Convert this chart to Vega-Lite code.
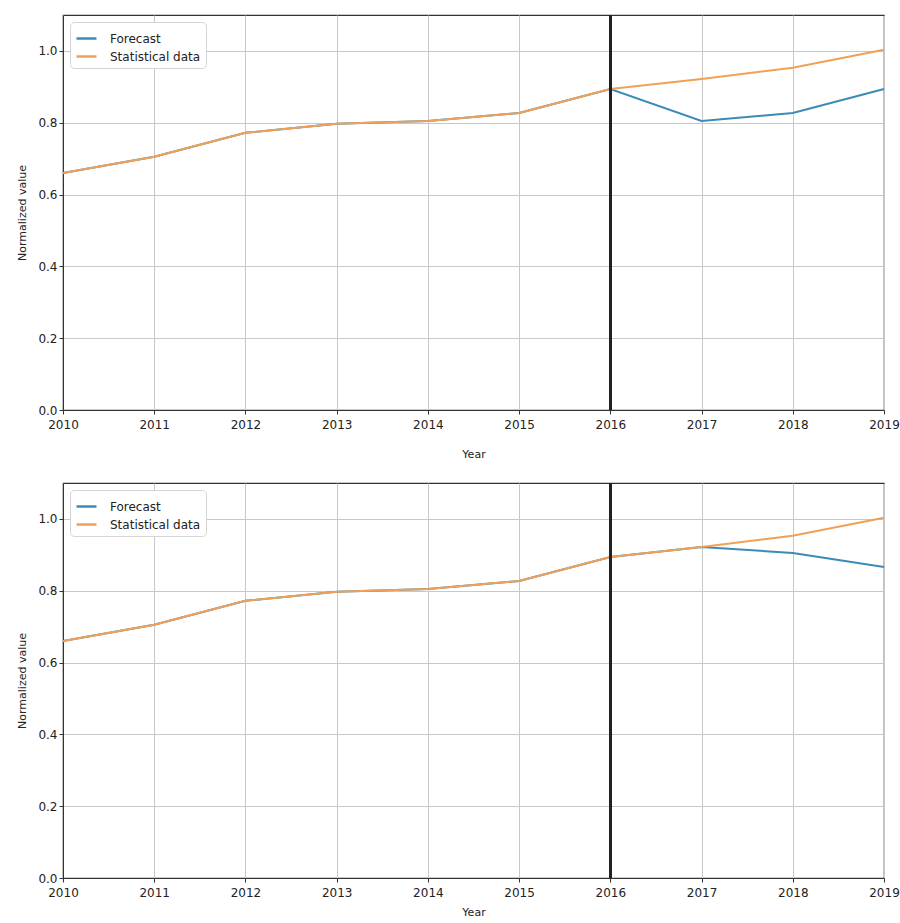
{
  "$schema": "https://vega.github.io/schema/vega-lite/v6.json",
  "padding": {"left": 16, "top": 13, "right": 10, "bottom": 0},
  "spacing": 21,
  "background": "white",
  "datasets": {
    "top": [
      {"year": 2010, "value": 0.660, "series": "Forecast"},
      {"year": 2011, "value": 0.705, "series": "Forecast"},
      {"year": 2012, "value": 0.772, "series": "Forecast"},
      {"year": 2013, "value": 0.797, "series": "Forecast"},
      {"year": 2014, "value": 0.805, "series": "Forecast"},
      {"year": 2015, "value": 0.827, "series": "Forecast"},
      {"year": 2016, "value": 0.894, "series": "Forecast"},
      {"year": 2017, "value": 0.805, "series": "Forecast"},
      {"year": 2018, "value": 0.827, "series": "Forecast"},
      {"year": 2019, "value": 0.894, "series": "Forecast"},
      {"year": 2010, "value": 0.660, "series": "Statistical data"},
      {"year": 2011, "value": 0.705, "series": "Statistical data"},
      {"year": 2012, "value": 0.772, "series": "Statistical data"},
      {"year": 2013, "value": 0.797, "series": "Statistical data"},
      {"year": 2014, "value": 0.805, "series": "Statistical data"},
      {"year": 2015, "value": 0.827, "series": "Statistical data"},
      {"year": 2016, "value": 0.894, "series": "Statistical data"},
      {"year": 2017, "value": 0.922, "series": "Statistical data"},
      {"year": 2018, "value": 0.953, "series": "Statistical data"},
      {"year": 2019, "value": 1.003, "series": "Statistical data"}
    ],
    "bottom": [
      {"year": 2010, "value": 0.660, "series": "Forecast"},
      {"year": 2011, "value": 0.705, "series": "Forecast"},
      {"year": 2012, "value": 0.772, "series": "Forecast"},
      {"year": 2013, "value": 0.797, "series": "Forecast"},
      {"year": 2014, "value": 0.805, "series": "Forecast"},
      {"year": 2015, "value": 0.827, "series": "Forecast"},
      {"year": 2016, "value": 0.894, "series": "Forecast"},
      {"year": 2017, "value": 0.922, "series": "Forecast"},
      {"year": 2018, "value": 0.905, "series": "Forecast"},
      {"year": 2019, "value": 0.866, "series": "Forecast"},
      {"year": 2010, "value": 0.660, "series": "Statistical data"},
      {"year": 2011, "value": 0.705, "series": "Statistical data"},
      {"year": 2012, "value": 0.772, "series": "Statistical data"},
      {"year": 2013, "value": 0.797, "series": "Statistical data"},
      {"year": 2014, "value": 0.805, "series": "Statistical data"},
      {"year": 2015, "value": 0.827, "series": "Statistical data"},
      {"year": 2016, "value": 0.894, "series": "Statistical data"},
      {"year": 2017, "value": 0.922, "series": "Statistical data"},
      {"year": 2018, "value": 0.953, "series": "Statistical data"},
      {"year": 2019, "value": 1.003, "series": "Statistical data"}
    ]
  },
  "config": {
    "font": "DejaVu Sans",
    "view": {"stroke": "#333333", "strokeWidth": 1.2},
    "axis": {
      "labelFont": "DejaVu Sans",
      "titleFont": "DejaVu Sans",
      "labelFontSize": 12,
      "titleFontSize": 11,
      "titleFontWeight": "normal",
      "labelColor": "#222222",
      "titleColor": "#222222",
      "gridColor": "#c8c8c8",
      "gridWidth": 1,
      "gridOpacity": 1,
      "domainColor": "#333333",
      "tickColor": "#333333",
      "tickSize": 4,
      "labelFlush": false
    },
    "legend": {
      "labelFont": "DejaVu Sans",
      "labelFontSize": 12,
      "labelColor": "#222222"
    }
  },
  "vconcat": [
    {
      "width": 821,
      "height": 395,
      "data": {"name": "top"},
      "layer": [
        {
          "mark": {"type": "line", "strokeWidth": 2},
          "encoding": {
            "x": {"field": "year", "type": "quantitative", "scale": {"domain": [2010, 2019], "nice": false, "zero": false},
                  "axis": {"values": [2010, 2011, 2012, 2013, 2014, 2015, 2016, 2017, 2018, 2019], "format": "d", "title": "Year", "titlePadding": 18, "labelPadding": 5}},
            "y": {"field": "value", "type": "quantitative", "scale": {"domain": [0, 1.1], "nice": false},
                  "axis": {"values": [0, 0.2, 0.4, 0.6, 0.8, 1.0], "format": ".1f", "title": "Normalized value", "titlePadding": 10}},
            "color": {"field": "series", "type": "nominal",
                      "scale": {"domain": ["Forecast", "Statistical data"], "range": ["#3a8bb8", "#f0a057"]},
                      "legend": {"title": null, "orient": "top-left", "symbolType": "stroke", "symbolStrokeWidth": 2.5, "symbolSize": 400,
                                 "fillColor": "white", "strokeColor": "#d5d5d5", "cornerRadius": 4, "padding": 5, "offset": 7, "rowPadding": 0, "labelOffset": 12}}
          }
        },
        {
          "mark": {"type": "rule", "color": "#222222", "strokeWidth": 2},
          "encoding": {"x": {"datum": 2016}}
        }
      ]
    },
    {
      "width": 821,
      "height": 395,
      "data": {"name": "bottom"},
      "layer": [
        {
          "mark": {"type": "line", "strokeWidth": 2},
          "encoding": {
            "x": {"field": "year", "type": "quantitative", "scale": {"domain": [2010, 2019], "nice": false, "zero": false},
                  "axis": {"values": [2010, 2011, 2012, 2013, 2014, 2015, 2016, 2017, 2018, 2019], "format": "d", "title": "Year", "titlePadding": 8, "labelPadding": 5}},
            "y": {"field": "value", "type": "quantitative", "scale": {"domain": [0, 1.1], "nice": false},
                  "axis": {"values": [0, 0.2, 0.4, 0.6, 0.8, 1.0], "format": ".1f", "title": "Normalized value", "titlePadding": 10}},
            "color": {"field": "series", "type": "nominal",
                      "scale": {"domain": ["Forecast", "Statistical data"], "range": ["#3a8bb8", "#f0a057"]},
                      "legend": {"title": null, "orient": "top-left", "symbolType": "stroke", "symbolStrokeWidth": 2.5, "symbolSize": 400,
                                 "fillColor": "white", "strokeColor": "#d5d5d5", "cornerRadius": 4, "padding": 5, "offset": 7, "rowPadding": 0, "labelOffset": 12}}
          }
        },
        {
          "mark": {"type": "rule", "color": "#222222", "strokeWidth": 2},
          "encoding": {"x": {"datum": 2016}}
        }
      ]
    }
  ],
  "resolve": {"legend": {"color": "independent"}, "scale": {"color": "independent"}}
}
